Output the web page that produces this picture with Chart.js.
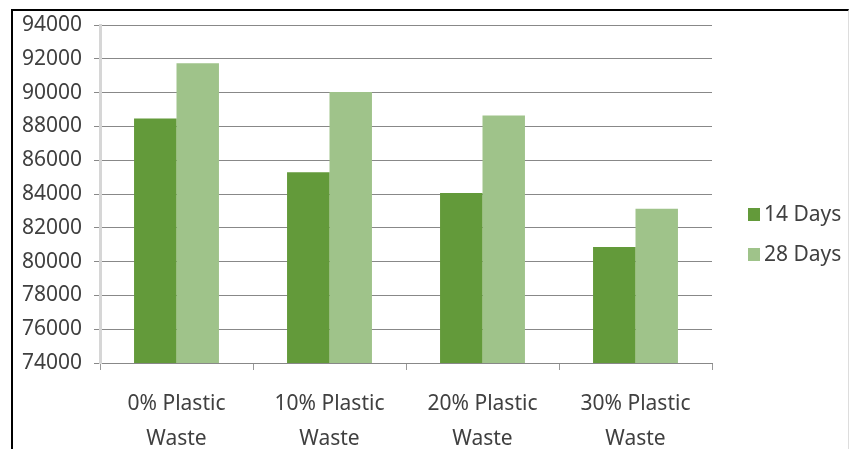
<!DOCTYPE html>
<html>
<head>
<meta charset="utf-8">
<script src="https://cdn.jsdelivr.net/npm/chart.js@4.4.1/dist/chart.umd.min.js"></script>
<style>
  html, body { margin: 0; padding: 0; background: #fff; }
  #wrap { position: relative; width: 849px; height: 449px; overflow: hidden; }
  #frame {
    position: absolute; left: 11px; top: 9px; width: 835px; height: 460px;
    border-top: 2.5px solid #000; border-left: 2.5px solid #000; border-right: 1px solid #ddd;
  }
  #chart { position: absolute; left: 0; top: 0; }
</style>
</head>
<body>
<div id="wrap">
  <div id="frame"></div>
  <canvas id="chart" width="849" height="449"></canvas>
</div>
<script>
const categories = [["0% Plastic", "Waste"], ["10% Plastic", "Waste"], ["20% Plastic", "Waste"], ["30% Plastic", "Waste"]]
const days14 = [88470, 85290, 84060, 80870]
const days28 = [91730, 90030, 88650, 83120]
const seriesNames = ["14 Days", "28 Days"]
const seriesColors = ["#639a3a", "#9fc38a"]

const textColor = "#404040"
const fontFamily = "'Noto Sans', sans-serif"

// legend drawn by hand so it sits where the original puts it
const sideLegend = {
  id: "sideLegend",
  afterDraw(chart) {
    const ctx = chart.ctx
    ctx.save()
    ctx.font = "21px " + fontFamily
    ctx.textBaseline = "middle"
    chart.data.datasets.forEach((ds, i) => {
      const y = 215 + i * 40
      ctx.fillStyle = ds.backgroundColor
      ctx.fillRect(748, y - 7, 12, 13)
      ctx.fillStyle = textColor
      ctx.fillText(ds.label, 764, y)
    })
    ctx.restore()
  }
}

const chart = document.querySelector("#chart").getContext("2d")

new Chart(chart, {
  type: "bar",
  data: {
    labels: categories,
    datasets: [
      { label: seriesNames[0], data: days14, backgroundColor: seriesColors[0] },
      { label: seriesNames[1], data: days28, backgroundColor: seriesColors[1] }
    ]
  },
  options: {
    responsive: false,
    animation: false,
    layout: { padding: { left: 14, right: 137, top: 25, bottom: 0 } },
    categoryPercentage: 0.555,
    barPercentage: 1.0,
    plugins: {
      legend: { display: false },
      tooltip: { enabled: false }
    },
    scales: {
      x: {
        grid: { drawOnChartArea: false, drawTicks: true, tickLength: 7, color: "#999" },
        border: { display: true, color: "#888", width: 1 },
        ticks: {
          color: textColor,
          font: { family: fontFamily, size: 21, lineHeight: 1.65 },
          padding: 17,
          maxRotation: 0
        },
        afterFit: s => { s.height = 449 - 363 }
      },
      y: {
        min: 74000,
        max: 94000,
        grid: { color: "#888", lineWidth: 1, tickLength: 6 },
        border: { display: true, color: "#d6d6d6", width: 3 },
        ticks: {
          stepSize: 2000,
          color: textColor,
          font: { family: fontFamily, size: 21 },
          padding: 12,
          callback: v => String(v)
        },
        afterFit: s => { s.width = 100 - 14 }
      }
    }
  },
  plugins: [sideLegend]
})
</script>
</body>
</html>
